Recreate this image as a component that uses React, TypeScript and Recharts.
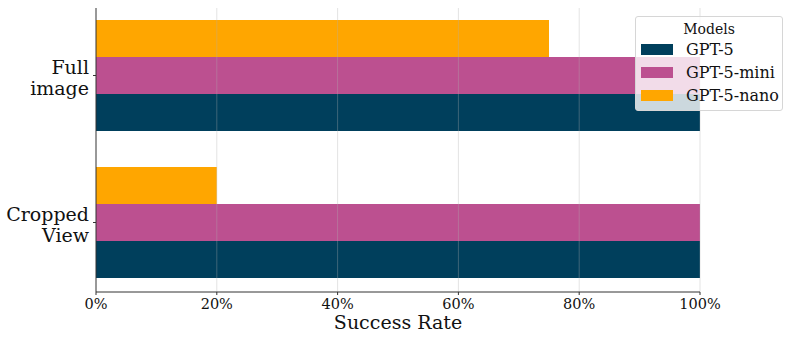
import React from "react";
import {
  BarChart,
  Bar,
  XAxis,
  YAxis,
  ReferenceLine,
} from "recharts";

const categories = ["Full image", "Cropped View"];
const gpt5 = [100, 100];
const gpt5Mini = [100, 100];
const gpt5Nano = [75, 20];
const xTicks = [0, 20, 40, 60, 80, 100];

const SERIES = [
  { key: "GPT-5", color: "#003f5c" },
  { key: "GPT-5-mini", color: "#bc5090" },
  { key: "GPT-5-nano", color: "#ffa600" },
];

const data = categories.map((name, i) => ({
  name,
  "GPT-5": gpt5[i],
  "GPT-5-mini": gpt5Mini[i],
  "GPT-5-nano": gpt5Nano[i],
}));

const FONT = "'DejaVu Serif', serif";

const CategoryTick = ({ x, y, payload }: any) => {
  const words = String(payload.value).split(" ");
  return (
    <text x={x - 3} y={y} textAnchor="end" fontFamily={FONT} fontSize={19} fill="#111">
      <tspan x={x - 2} dy={-2}>{words[0]}</tspan>
      <tspan x={x - 2} dy={21}>{words[1]}</tspan>
    </text>
  );
};

const ModelsLegend = () => (
  <div
    style={{
      position: "absolute",
      left: 635,
      top: 16,
      width: 146,
      height: 93,
      background: "rgba(255,255,255,0.8)",
      border: "1px solid #d6d6d6",
      borderRadius: 3,
      fontFamily: FONT,
      color: "#111",
      whiteSpace: "nowrap",
    }}
  >
    <div style={{ textAlign: "center", fontSize: 14, marginTop: 3, lineHeight: "18px" }}>Models</div>
    {SERIES.map((s) => (
      <div key={s.key} style={{ display: "flex", alignItems: "center", height: 23, marginLeft: 5 }}>
        <div style={{ width: 32, height: 11, background: s.color, flexShrink: 0 }} />
        <span style={{ fontSize: 16, marginLeft: 13 }}>{s.key}</span>
      </div>
    ))}
  </div>
);

export default function App() {
  return (
    <div style={{ position: "absolute", left: 0, top: 0, width: 793, height: 340, background: "#fff" }}>
      <BarChart
        width={793}
        height={340}
        data={data}
        layout="vertical"
        margin={{ top: 8, right: 93, bottom: 0, left: 0 }}
        barCategoryGap={18}
        barGap={0}
      >
        <XAxis
          type="number"
          domain={[0, 100]}
          ticks={xTicks}
          tickFormatter={(v: number) => `${v}%`}
          tick={{ fontFamily: FONT, fontSize: 14.5, fill: "#111", dy: 2 }}
          tickSize={3}
          tickLine={{ stroke: "#333" }}
          axisLine={{ stroke: "#333" }}
          height={48}
          label={{ value: "Success Rate", position: "insideBottom", offset: 11, fontFamily: FONT, fontSize: 19, fill: "#111" }}
        />
        <YAxis
          type="category"
          dataKey="name"
          width={96}
          tick={<CategoryTick />}
          tickSize={3}
          tickLine={{ stroke: "#333" }}
          axisLine={{ stroke: "#333" }}
          padding={{ top: -6, bottom: -4 }}
        />
        {[...SERIES].reverse().map((s) => (
          <Bar key={s.key} dataKey={s.key} fill={s.color} isAnimationActive={false} />
        ))}
        {xTicks.slice(1).map((t) => (
          <ReferenceLine key={t} x={t} stroke="#b0b0b0" strokeOpacity={0.35} strokeWidth={1} />
        ))}
      </BarChart>
      <ModelsLegend />
    </div>
  );
}
